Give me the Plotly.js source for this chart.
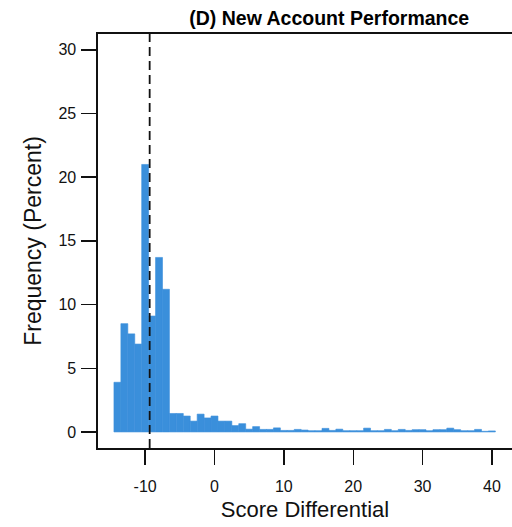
<!DOCTYPE html>
<html>
<head>
<meta charset="utf-8">
<script src="https://cdn.plot.ly/plotly-3.0.1.min.js"></script>
<style>
  html, body { margin: 0; padding: 0; background: #fff; }
  #chart { width: 512px; height: 527px; }
</style>
</head>
<body>
<div id="chart"></div>
<script>
// Histogram of score differentials for new accounts (one-point bins).
const binCenters = [
  -14, -13, -12, -11, -10, -9, -8, -7, -6, -5, -4, -3, -2, -1, 0,
  1, 2, 3, 4, 5, 6, 7, 8, 9, 10, 11, 12, 13, 14, 15,
  16, 17, 18, 19, 20, 21, 22, 23, 24, 25, 26, 27, 28, 29, 30,
  31, 32, 33, 34, 35, 36, 37, 38, 39, 40
];
const frequencyPct = [
  3.9, 8.5, 7.7, 6.9, 21.0, 9.1, 13.7, 11.2, 1.45, 1.45, 1.25, 0.85, 1.4, 1.1, 1.25,
  0.85, 0.85, 0.5, 0.65, 0.22, 0.42, 0.2, 0.2, 0.32, 0.12, 0.12, 0.2, 0.15, 0.1, 0.1,
  0.28, 0.12, 0.22, 0.1, 0.1, 0.1, 0.3, 0.1, 0.1, 0.2, 0.1, 0.2, 0.12, 0.18, 0.18,
  0.1, 0.18, 0.18, 0.3, 0.18, 0.1, 0.1, 0.2, 0.05, 0.08
];
const xTicks = [-10, 0, 10, 20, 30, 40];
const yTicks = [0, 5, 10, 15, 20, 25, 30];
const referenceScore = -9.35;

const barColor = '#3a8fdb';
const font = 'Liberation Sans, Arial, Helvetica, sans-serif';

const trace = {
  type: 'bar',
  x: binCenters,
  y: frequencyPct,
  width: binCenters.map(() => 1),
  marker: { color: barColor, line: { color: barColor, width: 0.6 } },
  hoverinfo: 'x+y'
};

const layout = {
  width: 512,
  height: 527,
  margin: { l: 98, r: 0, t: 34, b: 79 },
  paper_bgcolor: '#fff',
  plot_bgcolor: '#fff',
  showlegend: false,
  bargap: 0,
  font: { family: font, color: '#000', size: 16 },
  title: {
    text: '<b>(D) New Account Performance</b>',
    font: { family: font, size: 19.5, color: '#000' },
    x: 0.643, xanchor: 'center',
    y: 0.966, yanchor: 'middle'
  },
  xaxis: {
    range: [-16.8, 42.9],
    tickvals: xTicks,
    ticktext: xTicks.map(String),
    ticks: 'outside', ticklen: 15, tickwidth: 1.4, tickcolor: '#111',
    ticklabelstandoff: 8,
    showline: true, mirror: true, linecolor: '#111', linewidth: 1.6,
    showgrid: false, zeroline: false,
    tickfont: { family: font, size: 16, color: '#111' },
    title: { text: 'Score Differential', font: { family: font, size: 22, color: '#111' }, standoff: 8 }
  },
  yaxis: {
    range: [-1.26, 31.24],
    tickvals: yTicks,
    ticktext: yTicks.map(String),
    ticks: 'outside', ticklen: 15, tickwidth: 1.4, tickcolor: '#111',
    ticklabelstandoff: 2,
    showline: true, mirror: false, linecolor: '#111', linewidth: 1.6,
    showgrid: false, zeroline: false,
    tickfont: { family: font, size: 16, color: '#111' },
    title: { text: 'Frequency (Percent)', font: { family: font, size: 23, color: '#111' }, standoff: 10 }
  },
  shapes: [{
    type: 'line', xref: 'x', yref: 'paper',
    x0: referenceScore, x1: referenceScore, y0: 0, y1: 1,
    line: { color: '#111', width: 1.8, dash: '9px,5px' }
  }]
};

Plotly.newPlot('chart', [trace], layout, { displayModeBar: false, staticPlot: true });
</script>
</body>
</html>
